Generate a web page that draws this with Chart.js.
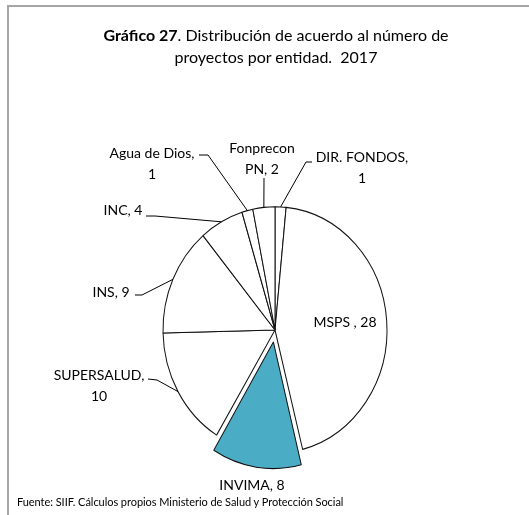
<!DOCTYPE html>
<html>
<head>
<meta charset="utf-8">
<script src="https://cdn.jsdelivr.net/npm/chart.js@4"></script>
<style>
  body { margin: 0; background: #fff; }
  #wrap { position: relative; width: 529px; height: 515px; overflow: hidden; font-family: Lato, 'Open Sans', sans-serif; color: #000; }
  #frame { position: absolute; left: 7px; top: 5px; width: 540px; height: 530px; border-top: 2px solid #a6a6a6; border-left: 2px solid #a6a6a6; }
  #title { position: absolute; left: 0; top: 24px; width: 552px; text-align: center; font-size: 16px; line-height: 22px; }
  #source { position: absolute; left: 17px; top: 495px; font-size: 11px; white-space: nowrap; letter-spacing: -0.05px; }
  canvas { position: absolute; left: 0; top: 0; }
</style>
</head>
<body>
<div id="wrap">
  <div id="frame"></div>
  <canvas id="chart" width="529" height="515"></canvas>
  <div id="title"><b>Gráfico 27</b>. Distribución de acuerdo al número de<br>proyectos por entidad.&nbsp; 2017</div>
  <div id="source">Fuente: SIIF. Cálculos propios Ministerio de Salud y Protección Social</div>
</div>
<script>
// ------------------------------------------------------------
// DATA (clockwise from 12 o'clock)
// ------------------------------------------------------------
const entities = ['DIR. FONDOS', 'MSPS', 'INVIMA', 'SUPERSALUD', 'INS', 'INC', 'Agua de Dios', 'Fonprecon PN'];
const projects = [1, 28, 8, 10, 9, 4, 1, 2];
const highlighted = 'INVIMA';

// ------------------------------------------------------------
// LAYOUT
// ------------------------------------------------------------
const Y_STRETCH = 1.1;
const FONT = '14px Lato, "Open Sans", sans-serif';
const LINE_H = 21;
const EXPLODE = 44; // chart.js moves the arc by roughly offset / 4 (plus a small fix)

// label anchor (centre of first line), wrap mode, leader elbow points
const labelLayout = {
  'DIR. FONDOS':  { x: 362, y: 157, wrap: 'value', leader: [[306, 162], [312, 162]] },
  'MSPS':         { x: 345, y: 322, sep: ' , ' },
  'INVIMA':       { x: 252, y: 485 },
  'SUPERSALUD':   { x: 99,  y: 375, wrap: 'value', leader: [[157, 380], [148, 379]] },
  'INS':          { x: 111, y: 292, leader: [[142, 295], [135, 295]] },
  'INC':          { x: 123, y: 210, leader: [[155, 216], [146, 216]] },
  'Agua de Dios': { x: 152, y: 153, wrap: 'value', leader: [[208, 155], [199, 155]] },
  'Fonprecon PN': { x: 262, y: 148, wrap: 'name', leader: [[264, 178]] },
};

function labelLines(name, value, cfg) {
  const sep = cfg.sep || ', ';
  if (cfg.wrap === 'value') return [name + ',', String(value)];
  if (cfg.wrap === 'name') {
    const parts = name.split(' ');
    return [parts[0], parts.slice(1).join(' ') + sep + value];
  }
  return [name + sep + value];
}

// draws the pie slightly taller than wide, like the original
const stretchPie = {
  id: 'stretchPie',
  beforeDatasetsDraw(chart) {
    const arc = chart.getDatasetMeta(0).data[0];
    const ctx = chart.ctx;
    ctx.save();
    ctx.translate(arc.x, arc.y);
    ctx.scale(1, Y_STRETCH);
    ctx.translate(-arc.x, -arc.y);
  },
  afterDatasetsDraw(chart) {
    chart.ctx.restore();
  },
};

const sliceLabels = {
  id: 'sliceLabels',
  afterDraw(chart) {
    const ctx = chart.ctx;
    const arcs = chart.getDatasetMeta(0).data;
    ctx.save();
    ctx.font = FONT;
    ctx.fillStyle = '#000';
    ctx.textAlign = 'center';
    ctx.textBaseline = 'middle';
    ctx.strokeStyle = '#000';
    ctx.lineWidth = 1;
    arcs.forEach((arc, i) => {
      const name = entities[i];
      const cfg = labelLayout[name];
      if (!cfg) return;
      if (cfg.leader) {
        const mid = (arc.startAngle + arc.endAngle) / 2;
        const sx = arc.x + Math.cos(mid) * arc.outerRadius;
        const sy = arc.y + Math.sin(mid) * arc.outerRadius * Y_STRETCH;
        ctx.beginPath();
        ctx.moveTo(sx, sy);
        cfg.leader.forEach(([px, py]) => ctx.lineTo(px, py));
        ctx.stroke();
      }
      labelLines(name, projects[i], cfg).forEach((line, k) => {
        ctx.fillText(line, cfg.x, cfg.y + k * LINE_H);
      });
    });
    ctx.restore();
  },
};

new Chart(document.getElementById('chart'), {
  type: 'pie',
  data: {
    labels: entities,
    datasets: [{
      data: projects,
      backgroundColor: entities.map((e) => (e === highlighted ? '#4BACC6' : '#FFFFFF')),
      borderColor: '#111',
      borderWidth: 1,
      offset: entities.map((e) => (e === highlighted ? EXPLODE : 0)),
    }],
  },
  options: {
    responsive: false,
    animation: false,
    radius: 112,
    layout: { padding: { left: 40, right: 19, top: 180, bottom: 35 } },
    plugins: { legend: { display: false }, tooltip: { enabled: false } },
  },
  plugins: [stretchPie, sliceLabels],
});
</script>
</body>
</html>
